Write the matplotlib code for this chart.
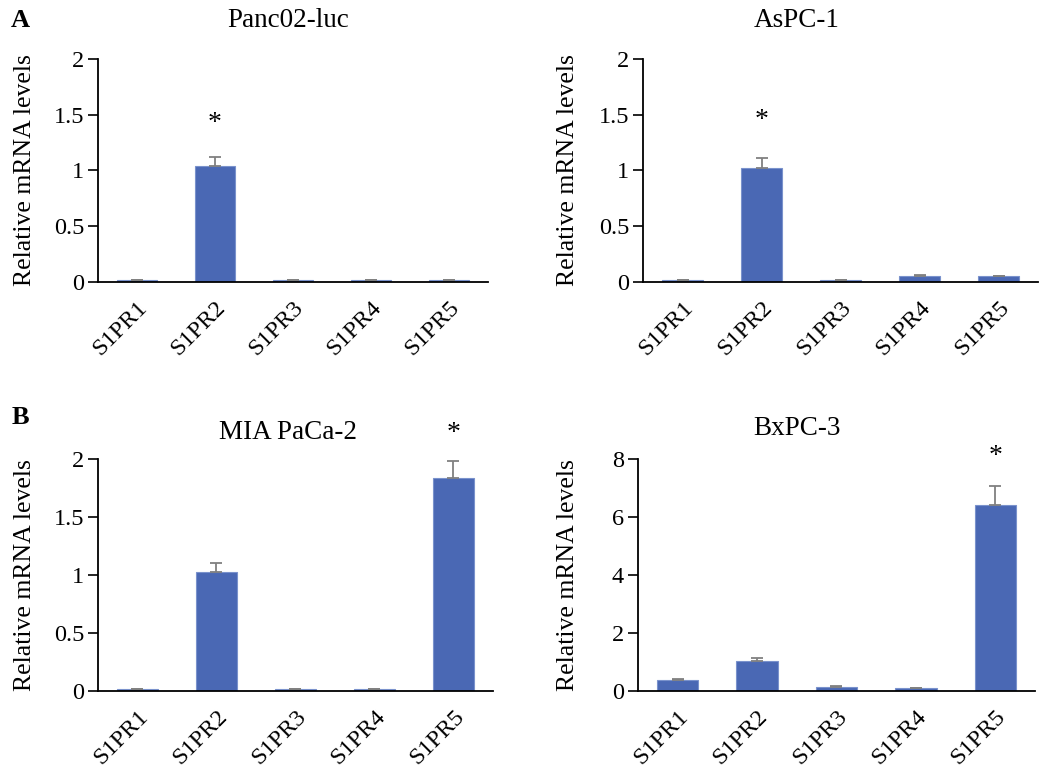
import matplotlib
matplotlib.use('Agg')
import matplotlib.pyplot as plt

plt.rcParams['font.family'] = ['Liberation Serif', 'DejaVu Serif']

genes = ['S1PR1', 'S1PR2', 'S1PR3', 'S1PR4', 'S1PR5']

# cell lines
panc02_vals = [0.015, 1.04, 0.015, 0.015, 0.015]
panc02_err = [0.0, 0.08, 0.0, 0.005, 0.0]
aspc1_vals = [0.015, 1.02, 0.015, 0.05, 0.05]
aspc1_err = [0.005, 0.09, 0.005, 0.01, 0.005]
mia_vals = [0.015, 1.03, 0.015, 0.015, 1.84]
mia_err = [0.0, 0.07, 0.0, 0.0, 0.14]
bxpc3_vals = [0.37, 1.04, 0.15, 0.10, 6.43]
bxpc3_err = [0.04, 0.09, 0.03, 0.02, 0.65]

titles = ['Panc02-luc', 'AsPC-1', 'MIA PaCa-2', 'BxPC-3']
ylims = [2, 2, 2, 8]
yticks = [[0, 0.5, 1, 1.5, 2], [0, 0.5, 1, 1.5, 2],
          [0, 0.5, 1, 1.5, 2], [0, 2, 4, 6, 8]]
star_idx = [1, 1, 4, 4]
star_y = [1.42, 1.45, 2.22, 8.1]

values = [panc02_vals, aspc1_vals, mia_vals, bxpc3_vals]
errors = [panc02_err, aspc1_err, mia_err, bxpc3_err]

bar_color = '#4A68B4'

fig = plt.figure(figsize=(10.5, 7.74), dpi=100)

# [left, bottom, width, height] in figure fractions
boxes = [
    [0.0933, 0.6357, 0.3715, 0.2881],
    [0.6124, 0.6357, 0.3762, 0.2881],
    [0.0933, 0.1072, 0.3762, 0.2998],
    [0.6076, 0.1072, 0.3781, 0.2998],
]
title_x = [0.274, 0.759, 0.274, 0.759]
title_y = [0.974, 0.974, 0.441, 0.446]
ylabel_pad = [13, 14, 13, 24]

for i in range(4):
    ax = fig.add_axes(boxes[i])
    x = range(len(genes))
    ax.bar(x, values[i], width=0.52, color=bar_color, edgecolor='#7A92CC',
           linewidth=0.8, zorder=2)
    ax.errorbar(x, values[i], yerr=[[0] * 5, errors[i]], fmt='none',
                ecolor='#808080', elinewidth=1.3, capsize=4, capthick=1.3, zorder=3)
    ax.text(star_idx[i], star_y[i], '*', ha='center', va='center', fontsize=20,
            clip_on=False)
    ax.set_xlim(-0.5, 4.5)
    ax.set_ylim(0, ylims[i])
    ax.set_yticks(yticks[i])
    ax.set_yticklabels([('%g' % t) for t in yticks[i]])
    ax.set_xticks(list(x))
    ax.set_xticklabels(genes, rotation=45, ha='right', rotation_mode='anchor')
    ax.tick_params(axis='y', direction='out', length=7, width=1.2, labelsize=17.5, pad=3)
    ax.tick_params(axis='x', length=0, labelsize=17.5, pad=11)
    for s in ['top', 'right']:
        ax.spines[s].set_visible(False)
    for s in ['left', 'bottom']:
        ax.spines[s].set_linewidth(1.3)
    ax.set_ylabel('Relative mRNA levels', fontsize=18.5, labelpad=ylabel_pad[i])
    fig.text(title_x[i], title_y[i], titles[i], ha='center', va='center', fontsize=19.5)

fig.text(0.019, 0.974, 'A', ha='center', va='center', fontsize=19, fontweight='bold')
fig.text(0.019, 0.461, 'B', ha='center', va='center', fontsize=19, fontweight='bold')

plt.savefig('out.png', dpi=100)
